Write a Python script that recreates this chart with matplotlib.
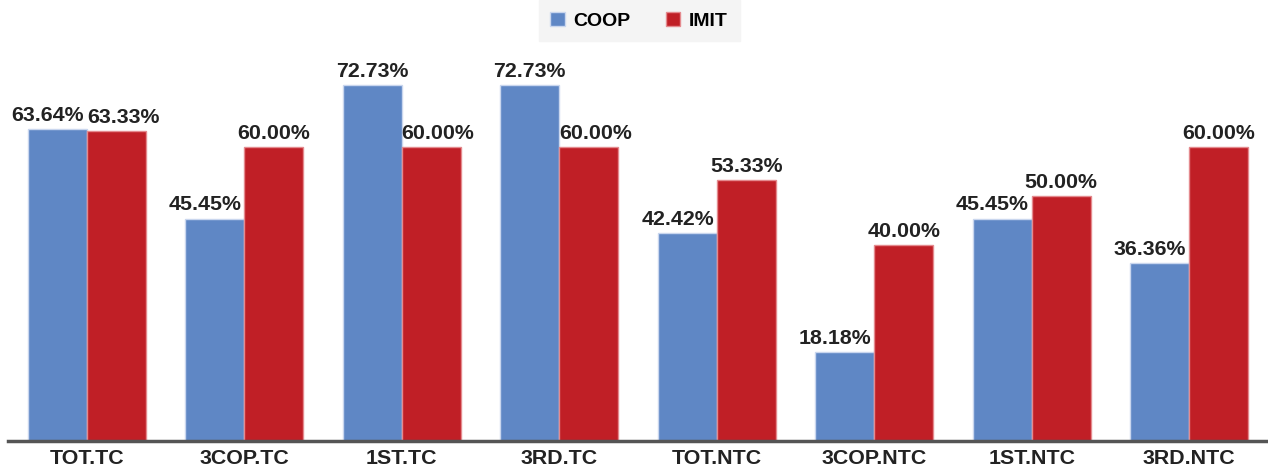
import matplotlib.pyplot as plt
import numpy as np

categories = ["TOT.TC", "3COP.TC", "1ST.TC", "3RD.TC",
              "TOT.NTC", "3COP.NTC", "1ST.NTC", "3RD.NTC"]
coop = [63.64, 45.45, 72.73, 72.73, 42.42, 18.18, 45.45, 36.36]
imit = [63.33, 60.00, 60.00, 60.00, 53.33, 40.00, 50.00, 60.00]

plt.rcParams['font.family'] = ['Liberation Sans', 'DejaVu Sans']

fig = plt.figure(figsize=(12.68, 4.70), dpi=100)
ax = fig.add_axes([8 / 1268, 29 / 470, 1 - 8 / 1268, 441 / 470])

x = np.arange(len(categories))
w = 0.375
b1 = ax.bar(x - w / 2, coop, w, color="#5f87c5", edgecolor="#c9d6ee",
            linewidth=1, label="COOP")
b2 = ax.bar(x + w / 2, imit, w, color="#c01f26", edgecolor="#e48a8e",
            linewidth=1, label="IMIT")

label_kw = dict(textcoords="offset points", va="bottom", fontsize=15.4,
                fontweight="bold", color="#222222")
# labels are pushed away from the neighbouring bar when it is as tall
for i in range(len(categories)):
    c, m = coop[i], imit[i]
    if m >= c - 4:
        ax.annotate(f"{c:.2f}%", (x[i], c), xytext=(-2, 3), ha="right",
                    **label_kw)
    else:
        ax.annotate(f"{c:.2f}%", (x[i] - w / 2, c), xytext=(0, 3),
                    ha="center", **label_kw)
    if c >= m - 4:
        ax.annotate(f"{m:.2f}%", (x[i], m), xytext=(0, 3), ha="left",
                    **label_kw)
    else:
        ax.annotate(f"{m:.2f}%", (x[i] + w / 2, m), xytext=(0, 3),
                    ha="center", **label_kw)

ax.set_xlim(-0.5, len(categories) - 0.5)
ax.set_ylim(0, 441 / 4.895)
ax.set_xticks(x)
ax.set_xticklabels(categories, fontsize=15.4, fontweight="bold",
                   color="#222222")
ax.tick_params(axis="x", length=0, pad=6)
ax.set_yticks([])
for s in ("top", "right", "left"):
    ax.spines[s].set_visible(False)
ax.spines["bottom"].set_color("#555555")
ax.spines["bottom"].set_linewidth(2.5)

leg = fig.legend(loc="upper center", bbox_to_anchor=(0.504, 1.0), ncol=2,
                 frameon=True, fancybox=False, handlelength=0.75,
                 handleheight=0.75, columnspacing=1.8, handletextpad=0.45,
                 borderpad=0.6, borderaxespad=0,
                 prop={"weight": "bold", "size": 14})
leg.get_frame().set_facecolor("#f4f4f4")
leg.get_frame().set_edgecolor("#f4f4f4")
leg.get_frame().set_alpha(1)

fig.savefig("out.png", dpi=100)
